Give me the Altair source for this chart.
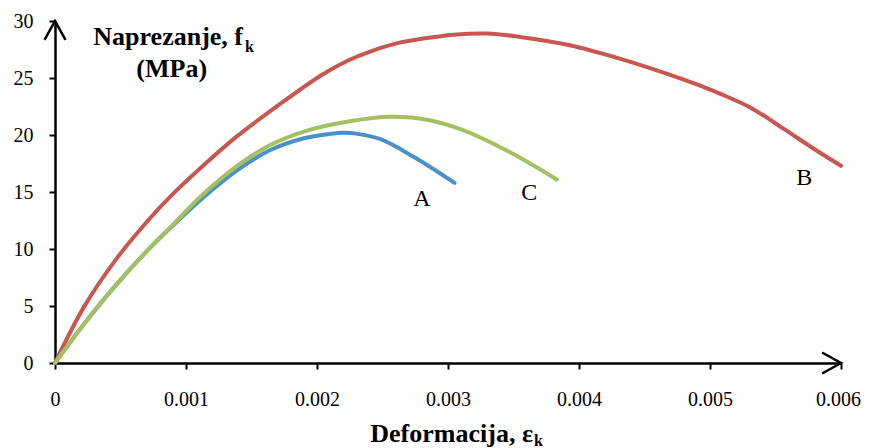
import altair as alt
import pandas as pd

# ---- data ----
strain_A = [0, 0.00022, 0.00047, 0.000725, 0.00088, 0.00113, 0.00139, 0.00164, 0.0019, 0.0021, 0.0022, 0.0023, 0.00248, 0.00274, 0.00305]
stress_A = [0, 3.4, 6.9, 10.1, 11.85, 14.5, 16.9, 18.66, 19.72, 20.1, 20.2, 20.12, 19.65, 18.07, 15.8]

strain_B = [0, 0.00022, 0.00047, 0.000725, 0.00088, 0.00113, 0.00139, 0.00174, 0.002, 0.0021, 0.00225, 0.0024, 0.00263, 0.00279, 0.00304, 0.0033, 0.00355, 0.00393, 0.00431, 0.00469, 0.00492, 0.00508, 0.00531, 0.00556, 0.00581, 0.006]
stress_B = [0, 4.9, 9.16, 12.7, 14.6, 17.3, 19.9, 22.9, 25.0, 25.7, 26.6, 27.3, 28.1, 28.42, 28.8, 28.9, 28.6, 27.87, 26.7, 25.3, 24.35, 23.6, 22.4, 20.56, 18.66, 17.3]

strain_C = [0, 0.00022, 0.00047, 0.000725, 0.00088, 0.00113, 0.00139, 0.00164, 0.0019, 0.00225, 0.00256, 0.00286, 0.00312, 0.00347, 0.00383]
stress_C = [0, 3.4, 6.9, 10.1, 11.9, 14.8, 17.3, 19.1, 20.3, 21.2, 21.6, 21.3, 20.4, 18.5, 16.1]

label_text = ["A", "B", "C"]
label_x = [0.0028, 0.00572, 0.00362]
label_y = [14.4, 16.2, 14.9]

x_ticks = [0, 0.001, 0.002, 0.003, 0.004, 0.005, 0.006]
y_ticks = [0, 5, 10, 15, 20, 25, 30]

colors = {"A": "#4A90C9", "B": "#C9574F", "C": "#A4C063"}

SERIF = "Liberation Serif"

xs = alt.Scale(domain=[0, 0.006], nice=False, zero=True)
ys = alt.Scale(domain=[0, 30], nice=False)

x_axis = alt.Axis(values=x_ticks, format=".3~f", title=None, grid=False,
                  domainColor="black", domainWidth=2.5, tickColor="black",
                  tickWidth=2, tickSize=6, labelFont=SERIF, labelFontSize=20,
                  labelColor="black", labelBaseline="alphabetic", labelPadding=36,
                  labelFlush=False, labelOverlap=False,
                  labelOffset={"condition": {"test": "datum.value >= 0.0059", "value": -3},
                               "value": 0})
y_axis = alt.Axis(values=y_ticks, title=None, grid=False,
                  domainColor="black", domainWidth=2.5, tickColor="black",
                  tickWidth=2, tickSize=6, labelFont=SERIF, labelFontSize=20,
                  labelColor="black", labelPadding=16, labelAlign="right",
                  labelBaseline="middle", labelFlush=False, labelOverlap=False)


def series(name, xv, yv):
    df = pd.DataFrame({"strain": xv, "stress": yv, "s": name})
    return alt.Chart(df).mark_line(
        color=colors[name], strokeWidth=4, interpolate="catmull-rom", strokeCap="round"
    ).encode(
        x=alt.X("strain:Q", scale=xs, axis=x_axis),
        y=alt.Y("stress:Q", scale=ys, axis=y_axis),
    )


lineA = series("A", strain_A, stress_A)
lineB = series("B", strain_B, stress_B)
lineC = series("C", strain_C, stress_C)

labels_df = pd.DataFrame({"t": label_text, "x": label_x, "y": label_y})
labels = alt.Chart(labels_df).mark_text(
    font=SERIF, fontSize=24, color="black", align="center", baseline="middle"
).encode(x=alt.X("x:Q", scale=xs), y=alt.Y("y:Q", scale=ys), text="t:N")

# arrow heads at the axis ends
arrow_up_df = pd.DataFrame({"x": [0.0], "y": [30.0]})
arrow_up = alt.Chart(arrow_up_df).mark_point(
    shape="M -1 1.8 L 0 0 L 1 1.8", size=441, filled=False, stroke="black",
    strokeWidth=2.5, opacity=1
).encode(x=alt.X("x:Q", scale=xs), y=alt.Y("y:Q", scale=ys))

arrow_right_df = pd.DataFrame({"x": [0.006], "y": [0.0]})
arrow_right = alt.Chart(arrow_right_df).mark_point(
    shape="M -1.8 -1 L 0 0 L -1.8 1", size=441, filled=False, stroke="black",
    strokeWidth=2.5, opacity=1
).encode(x=alt.X("x:Q", scale=xs), y=alt.Y("y:Q", scale=ys))

dummy = pd.DataFrame({"d": [0]})


def txt(text, px, py, size, align, bold=True):
    return alt.Chart(dummy).mark_text(
        text=text, font=SERIF, fontSize=size, fontWeight="bold" if bold else "normal",
        color="black", align=align, baseline="alphabetic"
    ).encode(x=alt.value(px), y=alt.value(py))


ytitle1 = txt("Naprezanje, f", 188, 24, 26, "right")
ytitle_k = txt("k", 190, 31, 16, "left")
ytitle2 = txt("(MPa)", 116.7, 56, 26, "center")
xtitle = txt("Deformacija, ε", 478, 420.7, 26, "right")
xtitle_k = txt("k", 479, 425, 16, "left")

chart = alt.layer(
    lineA, lineB, lineC, labels, arrow_up, arrow_right,
    ytitle1, ytitle_k, ytitle2, xtitle, xtitle_k
).properties(
    width=786, height=342,
    autosize=alt.AutoSizeParams(type="none"),
    padding={"left": 47, "top": 13, "right": 20, "bottom": 85},
    background="white",
).configure_view(stroke=None)

chart.save("out.html", embed_options={"renderer": "svg", "actions": False})
